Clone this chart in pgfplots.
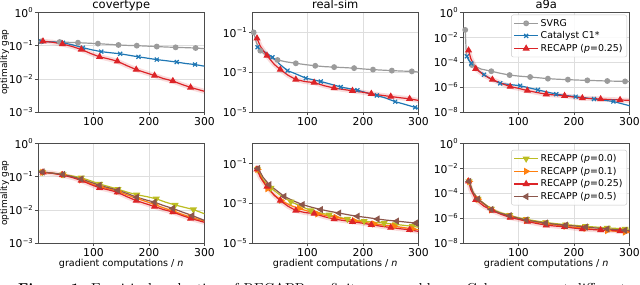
\documentclass[border=0pt]{standalone}
\usepackage{pgfplots}
\pgfplotsset{compat=1.18}
\usepackage{pgfplotstable}
\usepackage{fontspec}
\setmainfont{DejaVu Sans}
\newfontfamily\lmr{lmroman10-regular.otf}[BoldFont=lmroman10-bold.otf]
\definecolor{csvrg}{RGB}{155,155,155}
\definecolor{cblue}{RGB}{31,119,180}
\definecolor{cred}{RGB}{220,36,40}
\definecolor{colive}{RGB}{188,189,34}
\definecolor{corange}{RGB}{255,127,14}
\definecolor{cbrown}{RGB}{140,86,75}
\newcommand{\tp}[1]{10\kern0.2pt\raisebox{4.4pt}{\fontsize{6.8}{6.8}\selectfont #1}}

% ---------- data ----------
\pgfplotstableread{
x y
9 0.135
26 0.127
44 0.112
61 0.095
78 0.077
95 0.058
111 0.046
127 0.040
143 0.034
160 0.025
177 0.019
193 0.0155
210 0.0126
226 0.0102
243 0.0086
259 0.0068
275 0.0055
300 0.0042
}\redcov
\pgfplotstableread{
x y
9 0.05
15 0.02
27 0.0068
40 0.0025
51 0.00135
65 0.0007
79 0.00043
95 0.00034
112 0.0003
130 0.00021
148 0.00016
165 0.000135
181 0.000117
198 0.0001
215 0.000083
232 0.00007
250 0.00006
267 0.000052
284 0.000046
300 0.000038
}\redrs
\pgfplotstableread{
x y
10 9e-4
14 2e-4
23 3e-5
38 9e-6
53 4e-6
69 2e-6
85 1.1e-6
100 8e-7
116 5.3e-7
133 3.7e-7
150 2.7e-7
166 2.3e-7
183 2e-7
199 1.6e-7
215 1.3e-7
232 1.2e-7
248 1.1e-7
266 1e-7
283 9.3e-8
300 8.6e-8
}\reda

\pgfplotsset{
  myax/.style={
    scale only axis, width=166.5pt, height=99.5pt,
    xmin=0, xmax=300, xtick={100,200,300}, xticklabels={100,200,300},
    axis line style={black!70, line width=0.6pt},
    tick align=outside, tick pos=left,
    major tick length=3.2pt, minor tick length=0pt,
    tick style={black!70, line width=0.6pt},
    grid=major, major grid style={black!13, line width=0.6pt},
    tick label style={font=\fontsize{10.8}{10.8}\selectfont, inner sep=1.8pt},
    title style={at={(0.5,1)}, anchor=base, yshift=-2.5pt, font=\fontsize{11.5}{11.5}\selectfont},
    ylabel style={at={(axis description cs:-0.201,0.5)}, anchor=center, font=\fontsize{9}{9}\selectfont, inner sep=0pt},
    xlabel style={at={(axis description cs:0.5,0)}, anchor=base, yshift=-23.5pt, font=\fontsize{9.6}{9.6}\selectfont},
    legend style={draw=black!22, rounded corners=2pt, fill=white, fill opacity=0.85, text opacity=1,
      font=\fontsize{9.4}{11}\selectfont, inner sep=2.2pt},
    legend cell align=left,
    legend image code/.code={\draw[mark repeat=2,mark phase=2] plot coordinates {(0cm,0cm) (0.42cm,0cm) (0.84cm,0cm)};},
  },
  mycov/.style={ymin=1e-3, ymax=1, ytick={1,0.1,0.01,0.001}, yticklabels={\tp{0},\tp{−1},\tp{−2},\tp{−3}}},
  myrs/.style={ymin=1e-5, ymax=1, ytick={0.1,0.001,0.00001}, yticklabels={\tp{−1},\tp{−3},\tp{−5}}},
  mya/.style={ymin=1e-8, ymax=1, ytick={1,1e-2,1e-4,1e-6,1e-8}, yticklabels={\tp{0},\tp{−2},\tp{−4},\tp{−6},\tp{−8}}},
  myser/.style={line width=1.2pt, mark repeat=2, mark phase=1, mark size=2.6pt},
  mysvrg/.style={myser, color=csvrg, mark=*, mark size=2.3pt},
  mycat/.style={myser, color=cblue, mark=x, mark size=2.8pt},
  myrec/.style={myser, color=cred, mark=triangle*, mark size=3pt},
  mypzero/.style={myser, color=colive, mark=triangle*, mark size=3pt, mark options={rotate=180}},
  mypone/.style={myser, color=corange, mark=triangle*, mark size=3pt, mark options={rotate=-90}},
  mypfive/.style={myser, color=cbrown, mark=triangle*, mark size=3pt, mark options={rotate=90}},
  myband/.style={forget plot, no marks, line width=5pt, opacity=0.16, color=cred, line join=round, line cap=round},
}

\begin{document}
\begin{tikzpicture}
\useasboundingbox (0pt,0pt) rectangle (640pt,284pt);

% ================= TOP ROW =================
\begin{axis}[ymode=log, myax, mycov, at={(38pt,172pt)}, anchor=south west, title={covertype}, ylabel={optimality gap}]
\addplot[myband] table {\redcov};
\addplot[mysvrg] coordinates {(6,0.135) (22,0.132) (39,0.129) (55,0.126) (72,0.123) (90,0.119) (108,0.115) (126,0.11) (145,0.105) (161,0.102) (178,0.1) (196,0.097) (214,0.094) (231,0.091) (248,0.089) (266,0.087) (284,0.085) (300,0.081)};
\addplot[mycat] coordinates {(6,0.133) (25,0.13) (45,0.122) (63,0.105) (81,0.087) (97,0.075) (114,0.066) (131,0.061) (148,0.057) (165,0.051) (181,0.046) (197,0.042) (214,0.038) (232,0.035) (250,0.032) (266,0.029) (283,0.027) (300,0.024)};
\addplot[myrec] table {\redcov};
\end{axis}

\begin{axis}[ymode=log, myax, myrs, at={(252pt,172pt)}, anchor=south west, title={real-sim}]
\addplot[myband] table {\redrs};
\addplot[mysvrg] coordinates {(3,0.1) (8,0.03) (15,0.012) (30,0.0055) (46,0.0041) (62,0.0033) (79,0.0028) (96,0.0024) (114,0.0021) (131,0.0019) (148,0.0018) (166,0.0017) (184,0.0016) (201,0.00145) (218,0.00135) (235,0.00127) (252,0.0012) (270,0.00114) (288,0.0011) (300,0.00102)};
\addplot[mycat] coordinates {(10,0.018) (22,0.011) (37,0.0056) (50,0.0025) (64,0.0012) (80,0.0008) (97,0.0005) (110,0.00042) (124,0.00034) (142,0.00025) (160,0.00018) (175,0.00015) (190,0.000125) (208,0.00009) (225,0.000068) (241,0.00005) (258,0.000033) (276,0.000024) (294,0.000017) (300,0.000015)};
\addplot[myrec] table {\redrs};
\end{axis}

\begin{axis}[ymode=log, myax, mya, at={(463pt,172pt)}, anchor=south west, title={a9a},
  legend style={at={(0.985,0.978)}, anchor=north east}]
\addplot[myband] table {\reda};
\addplot[mysvrg] coordinates {(4,0.04) (6,4e-4) (16,6e-5) (33,2.8e-5) (51,1.9e-5) (67,1.3e-5) (84,9.3e-6) (102,7.6e-6) (121,6.5e-6) (137,5.6e-6) (153,4.8e-6) (171,4.3e-6) (189,4e-6) (206,3.7e-6) (224,3.5e-6) (242,3.3e-6) (260,3.1e-6) (276,3e-6) (292,2.9e-6) (300,2.8e-6)};
\addlegendentry{SVRG}
\addplot[mycat] coordinates {(7,3e-4) (10,1.5e-4) (15,8e-5) (23,3e-5) (38,1e-5) (52,4e-6) (67,2e-6) (85,1.6e-6) (103,1.3e-6) (118,9e-7) (135,6e-7) (152,4e-7) (168,2.7e-7) (186,2.1e-7) (203,1.7e-7) (220,1.4e-7) (236,1.1e-7) (253,9e-8) (271,7e-8) (300,3.2e-8)};
\addlegendentry{Catalyst C1*}
\addplot[myrec] table {\reda};
\addlegendentry{RECAPP (\textit{p}=0.25)}
\end{axis}

% ================= BOTTOM ROW =================
\begin{axis}[ymode=log, myax, mycov, at={(38pt,41pt)}, anchor=south west, ylabel={optimality gap},
  xlabel={gradient computations / \textit{n}}]
\addplot[myband] table {\redcov};
\addplot[mypzero] coordinates {(8,0.138) (26,0.128) (45,0.117) (62,0.105) (78,0.093) (95,0.075) (111,0.06) (128,0.05) (144,0.042) (161,0.034) (178,0.0285) (196,0.025) (213,0.0215) (230,0.017) (247,0.014) (263,0.012) (280,0.0102) (300,0.0076)};
\addplot[mypone] coordinates {(8,0.135) (26,0.126) (45,0.115) (62,0.097) (78,0.08) (95,0.062) (111,0.05) (128,0.043) (144,0.036) (161,0.028) (178,0.022) (194,0.018) (210,0.0145) (226,0.0115) (243,0.0092) (259,0.0074) (275,0.006) (300,0.0046)};
\addplot[myrec] table {\redcov};
\addplot[mypfive] coordinates {(8,0.138) (26,0.128) (45,0.117) (62,0.1) (78,0.085) (95,0.068) (111,0.055) (128,0.046) (144,0.039) (161,0.031) (178,0.024) (194,0.02) (210,0.017) (226,0.0135) (243,0.011) (260,0.0086) (278,0.0067) (300,0.0048)};
\end{axis}

\begin{axis}[ymode=log, myax, myrs, at={(252pt,41pt)}, anchor=south west, xlabel={gradient computations / \textit{n}}]
\addplot[myband] table {\redrs};
\addplot[mypzero] coordinates {(10,0.05) (20,0.015) (34,0.0058) (52,0.0024) (70,0.0012) (88,0.0007) (106,0.00043) (122,0.00033) (139,0.00026) (155,0.0002) (172,0.00016) (187,0.00014) (202,0.000126) (220,0.00011) (238,0.0001) (248,0.000093) (259,0.000086) (274,0.000077) (289,0.000069) (300,0.000062)};
\addplot[mypone] coordinates {(10,0.05) (18,0.015) (28,0.0054) (40,0.0026) (52,0.0014) (68,0.0008) (85,0.00054) (101,0.0004) (118,0.00029) (134,0.00024) (151,0.000195) (167,0.00016) (184,0.000132) (202,0.00011) (220,0.00009) (238,0.000079) (256,0.000069) (272,0.00006) (289,0.000051) (300,0.000046)};
\addplot[myrec] table {\redrs};
\addplot[mypfive] coordinates {(11,0.056) (20,0.02) (31,0.0085) (45,0.0042) (58,0.0022) (75,0.0013) (91,0.00085) (108,0.00062) (124,0.00048) (140,0.00039) (157,0.00032) (174,0.00026) (190,0.00022) (208,0.00019) (226,0.00016) (243,0.00014) (261,0.000126) (278,0.000112) (295,0.0001) (300,0.000096)};
\end{axis}

\begin{axis}[ymode=log, myax, mya, at={(463pt,41pt)}, anchor=south west, xlabel={gradient computations / \textit{n}},
  legend style={at={(0.985,0.935)}, anchor=north east}]
\addplot[myband] table {\reda};
\addplot[mypzero] coordinates {(11,9e-4) (18,1.2e-4) (27,3.5e-5) (39,1.4e-5) (51,5.5e-6) (67,2.8e-6) (84,1.7e-6) (99,1.1e-6) (114,8e-7) (131,6e-7) (149,4.5e-7) (167,3.6e-7) (185,3e-7) (203,2.6e-7) (221,2.2e-7) (240,1.9e-7) (260,1.65e-7) (276,1.5e-7) (292,1.35e-7) (300,1.3e-7)};
\addlegendentry{RECAPP (\textit{p}=0.0)}
\addplot[mypone] coordinates {(11,9e-4) (18,1.1e-4) (27,3.3e-5) (39,1.2e-5) (51,4.6e-6) (67,2.3e-6) (84,1.4e-6) (99,9.5e-7) (114,6.5e-7) (131,4.7e-7) (149,3.5e-7) (167,2.8e-7) (185,2.2e-7) (203,1.8e-7) (221,1.5e-7) (240,1.2e-7) (260,1e-7) (276,8.8e-8) (292,7.6e-8) (300,7e-8)};
\addlegendentry{RECAPP (\textit{p}=0.1)}
\addplot[myrec] table {\reda};
\addlegendentry{RECAPP (\textit{p}=0.25)}
\addplot[mypfive] coordinates {(11,9e-4) (18,1.2e-4) (27,3.5e-5) (39,1.3e-5) (51,5e-6) (67,2.5e-6) (84,1.6e-6) (99,1e-6) (114,7.2e-7) (131,5.3e-7) (149,4e-7) (167,3.2e-7) (185,2.7e-7) (203,2.3e-7) (221,1.9e-7) (240,1.6e-7) (260,1.35e-7) (276,1.2e-7) (292,1.05e-7) (300,1e-7)};
\addlegendentry{RECAPP (\textit{p}=0.5)}
\end{axis}

\node[anchor=base west, inner sep=0pt] at (18pt,-9pt) {\lmr\fontsize{14.4}{16}\selectfont\makebox[608pt][s]{\textbf{Figure 1:} Empirical evaluation of RECAPP on finite-sum problems. Colors represent different}};
\end{tikzpicture}
\end{document}
